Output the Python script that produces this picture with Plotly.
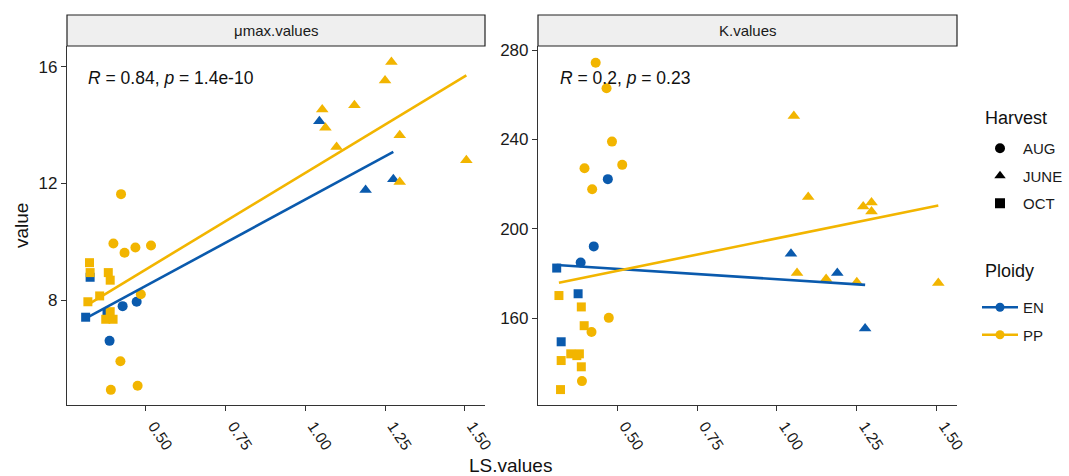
import numpy as np
import plotly.graph_objects as go

# ---------------- data ----------------
ploidy = (["EN"] * 9) + (["PP"] * 27)
harvest = (["AUG"] * 3 + ["OCT"] * 3 + ["JUNE"] * 3
           + ["AUG"] * 9 + ["OCT"] * 9 + ["JUNE"] * 9)
ls_values = [0.386, 0.427, 0.471,
             0.311, 0.325, 0.378,
             1.044, 1.189, 1.276,
             0.390, 0.398, 0.420, 0.422, 0.433, 0.467, 0.474, 0.484, 0.516,
             0.318, 0.323, 0.325, 0.355, 0.374, 0.382, 0.388, 0.388, 0.397,
             1.053, 1.063, 1.098, 1.154, 1.250, 1.270, 1.296, 1.296, 1.505]
mu_values = [6.60, 7.79, 7.94,
             7.41, 8.78, 7.55,
             14.13, 11.77, 12.14,
             4.92, 9.94, 5.90, 11.63, 9.62, 9.80, 5.06, 8.20, 9.87,
             7.94, 9.28, 8.94, 8.14, 7.34, 8.94, 8.68, 7.60, 7.34,
             14.53, 13.91, 13.25, 14.68, 15.53, 16.16, 13.65, 12.05, 12.79]
k_values = [184.9, 192.1, 222.2,
            182.4, 149.4, 170.9,
            188.8, 180.2, 155.3,
            131.8, 227.1, 153.8, 217.7, 274.3, 262.9, 160.1, 239.0, 228.6,
            170.1, 128.0, 141.0, 144.0, 143.2, 144.0, 165.0, 138.2, 156.6,
            250.5, 180.2, 214.2, 177.5, 176.0, 210.0, 211.8, 207.7, 175.7]

panel_names = ["μmax.values", "K.values"]
stat_labels = ["<i>R</i> = 0.84, <i>p</i> = 1.4e-10", "<i>R</i> = 0.2, <i>p</i> = 0.23"]
harvest_levels = ["AUG", "JUNE", "OCT"]
ploidy_levels = ["EN", "PP"]
legend_titles = ["Harvest", "Ploidy"]
x_ticks = [0.50, 0.75, 1.00, 1.25, 1.50]
mu_ticks = [8, 12, 16]
k_ticks = [160, 200, 240, 280]

# ---------------- styles ----------------
colors = {"EN": "#0a5aad", "PP": "#f2b500"}
symbols = {"AUG": "circle", "JUNE": "triangle-up", "OCT": "square"}
msizes = {"AUG": 10, "JUNE": 11, "OCT": 9}
FONT = "Liberation Sans, Arial, sans-serif"

W, H = 1069, 476
ML, MR, MT, MB = 50, 110, 10, 70
PW, PH = W - ML - MR, H - MT - MB
def px_x(p): return (p - ML) / PW
def px_y(p): return (H - MB - p) / PH

panel_top, panel_bot = 46, 405
domains = [(px_x(67), px_x(485)), (px_x(538), px_x(957))]

fig = go.Figure()

ls = np.array(ls_values)
panels = [np.array(mu_values), np.array(k_values)]
axis_ids = [("x", "y"), ("x2", "y2")]

for pi, vals in enumerate(panels):
    xa, ya = axis_ids[pi]
    for pl in ploidy_levels:
        for hv in harvest_levels:
            idx = [i for i in range(len(ls)) if ploidy[i] == pl and harvest[i] == hv]
            fig.add_trace(go.Scatter(
                x=ls[idx], y=vals[idx], mode="markers",
                marker=dict(symbol=symbols[hv], size=msizes[hv], color=colors[pl],
                            line=dict(width=0)),
                xaxis=xa, yaxis=ya, showlegend=False, hoverinfo="skip"))
    for pl in ploidy_levels:
        idx = [i for i in range(len(ls)) if ploidy[i] == pl]
        xs, ys = ls[idx], vals[idx]
        b, a = np.polyfit(xs, ys, 1)
        xl = np.array([xs.min(), xs.max()])
        fig.add_trace(go.Scatter(
            x=xl, y=a + b * xl, mode="lines",
            line=dict(color=colors[pl], width=2.6),
            xaxis=xa, yaxis=ya, showlegend=False, hoverinfo="skip"))

# legend traces
for hv in harvest_levels:
    fig.add_trace(go.Scatter(
        x=[None], y=[None], mode="markers", name=hv, legendgroup=hv,
        marker=dict(symbol=symbols[hv], size=10, color="black"),
        legend="legend"))
for pl in ploidy_levels:
    fig.add_trace(go.Scatter(
        x=[None], y=[None], mode="lines+markers", name=pl, legendgroup=pl,
        marker=dict(symbol="circle", size=9, color=colors[pl]),
        line=dict(color=colors[pl], width=2.6),
        legend="legend2"))

axis_common = dict(showgrid=False, zeroline=False, showline=True, linecolor="#333333",
                   linewidth=1.2, ticks="outside", ticklen=5, tickcolor="#333333",
                   mirror=False, automargin=False)
xtickfont = dict(family=FONT, size=15.5, color="#1a1a1a")
ytickfont = dict(family=FONT, size=17, color="#1a1a1a")

xr = [0.2525, 1.5635]
fig.update_layout(
    xaxis=dict(domain=domains[0], range=xr, tickvals=x_ticks,
               ticktext=[f"{t:.2f}" for t in x_ticks], tickangle=56, anchor="y",
               ticklabelshift=8, tickfont=xtickfont, **axis_common),
    yaxis=dict(domain=[px_y(panel_bot), px_y(panel_top)], range=[4.40, 16.71],
               tickvals=mu_ticks, anchor="x", tickfont=ytickfont, **axis_common),
    xaxis2=dict(domain=domains[1], range=xr, tickvals=x_ticks,
                ticktext=[f"{t:.2f}" for t in x_ticks], tickangle=56, anchor="y2",
                ticklabelshift=8, tickfont=xtickfont, **axis_common),
    yaxis2=dict(domain=[px_y(panel_bot), px_y(panel_top)], range=[121.1, 281.8],
                tickvals=k_ticks, anchor="x2", tickfont=ytickfont, **axis_common),
    width=W, height=H,
    margin=dict(l=ML, r=MR, t=MT, b=MB, autoexpand=False),
    paper_bgcolor="white", plot_bgcolor="white",
    font=dict(family=FONT, color="#1a1a1a"),
    legend=dict(x=px_x(977), y=px_y(132), xanchor="left", yanchor="top",
                font=dict(size=15, family=FONT), itemwidth=36, tracegroupgap=5),
    legend2=dict(x=px_x(977), y=px_y(291), xanchor="left", yanchor="top",
                 font=dict(size=15, family=FONT), itemwidth=36, tracegroupgap=5),
)

# legend titles
for txt, yp in zip(legend_titles, [118, 271]):
    fig.add_annotation(x=px_x(983), y=px_y(yp), xref="paper", yref="paper", text=txt,
                       showarrow=False, xanchor="left", yanchor="middle",
                       font=dict(size=18, family=FONT, color="#111111"))

# strips
for pi, (d0, d1) in enumerate(domains):
    fig.add_shape(type="rect", xref="paper", yref="paper",
                  x0=d0, x1=d1, y0=px_y(panel_top), y1=px_y(15),
                  fillcolor="#efefef", line=dict(color="#222222", width=1.2), layer="above")
    fig.add_annotation(x=(d0 + d1) / 2, y=px_y(30.5), xref="paper", yref="paper",
                       text=panel_names[pi], showarrow=False,
                       xanchor="center", yanchor="middle",
                       font=dict(size=15, family=FONT, color="#1a1a1a"))

# stat labels
stat_pos = [(0.313, 15.6), (0.316, 267.5)]
for pi, (xa, ya) in enumerate(axis_ids):
    fig.add_annotation(x=stat_pos[pi][0], y=stat_pos[pi][1], xref=xa, yref=ya,
                       text=stat_labels[pi], showarrow=False,
                       xanchor="left", yanchor="middle",
                       font=dict(size=17.5, family=FONT, color="#111111"))

# axis titles
fig.add_annotation(x=px_x(510), y=px_y(465), xref="paper", yref="paper", text="LS.values",
                   showarrow=False, xanchor="center", yanchor="middle",
                   font=dict(size=19, family=FONT, color="#111111"))
fig.add_annotation(x=px_x(22), y=px_y(226), xref="paper", yref="paper", text="value",
                   showarrow=False, textangle=-90, xanchor="center", yanchor="middle",
                   font=dict(size=19, family=FONT, color="#111111"))

fig.write_html("out.html", post_script="document.body.style.margin='0px';",
               config={"displayModeBar": False})
